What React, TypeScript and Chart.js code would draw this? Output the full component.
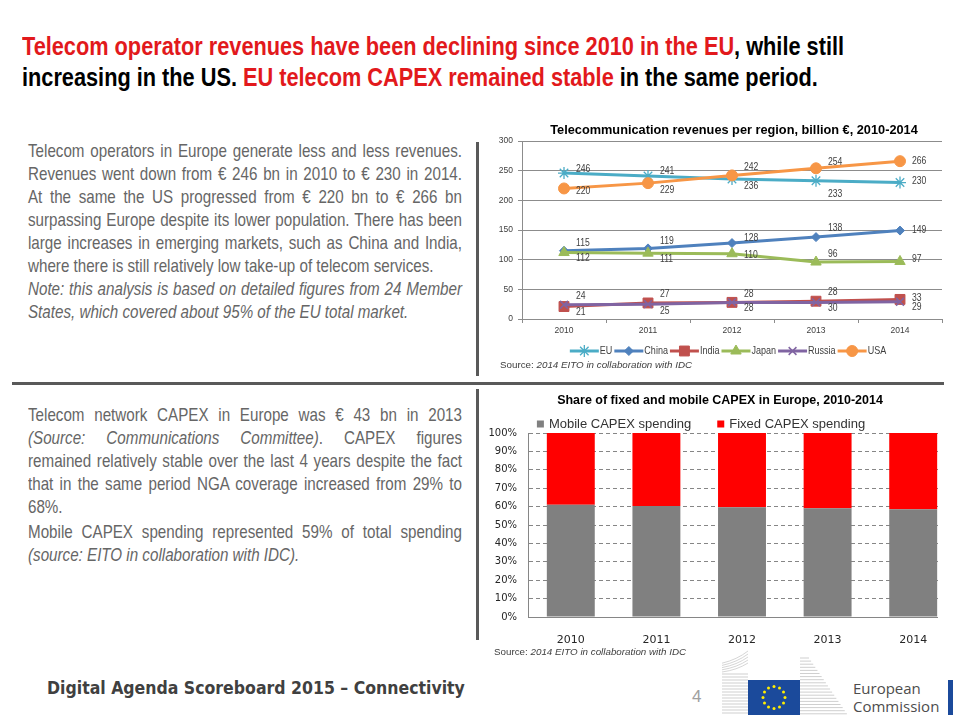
import React, { useEffect, useRef } from "react";
import { Chart, registerables } from "chart.js";
import { drawPoint } from "chart.js/helpers";

Chart.register(...registerables);

// ---------- data ----------
const years = ["2010", "2011", "2012", "2013", "2014"];
const regionNames = ["EU", "China", "India", "Japan", "Russia", "USA"];
const euRevenue = [246, 241, 236, 233, 230];
const chinaRevenue = [115, 119, 128, 138, 149];
const indiaRevenue = [21, 27, 28, 30, 33];
const japanRevenue = [112, 111, 110, 96, 97];
const russiaRevenue = [24, 25, 28, 28, 29];
const usaRevenue = [220, 229, 242, 254, 266];
const revenueSeries = [euRevenue, chinaRevenue, indiaRevenue, japanRevenue, russiaRevenue, usaRevenue];

const capexSeriesNames = ["Mobile CAPEX spending", "Fixed CAPEX spending"];
const mobileCapexShare = [61, 60.3, 59.7, 59.1, 58.6];
const fixedCapexShare = [39, 39.7, 40.3, 40.9, 41.4];

// ---------- styles ----------
const FONT_SANS = '"Liberation Sans", Arial, sans-serif';
const FONT_DEJAVU = '"DejaVu Sans", Verdana, sans-serif';
const NARROW = 0.82; // horizontal squeeze imitating Arial Narrow

const regionColors = ["#4BACC6", "#4F81BD", "#C0504D", "#9BBB59", "#8064A2", "#F79646"];
const regionMarkers = ["star", "rectRot", "rect", "triangle", "crossRot", "circle"];
const regionMarkerRadius = [6, 4.5, 7, 6, 5.5, 5.5];
const regionMarkerBorder = [1.3, 1, 1, 1, 1.5, 1];
// vertical offsets (px) of the value labels, relative to each point
const revenueLabelOffsets = [
  [-4, -5, 7, 13, -1],
  [-8, -7, -5, -9, 0],
  [6, -9, -8, 7, -1],
  [6, 6, 1, -8, -2],
  [-9, 7, 6, -10, 5],
  [3, 7, -8, -6, 0],
];
const capexColors = ["#808080", "#FF0000"];

function narrowText(ctx: CanvasRenderingContext2D, text: string, x: number, y: number) {
  ctx.save();
  ctx.translate(x, y);
  ctx.scale(NARROW, 1);
  ctx.fillText(text, 0, 0);
  ctx.restore();
}

// ---------- plugins ----------
const panelTitlePlugin = {
  id: "panelTitle",
  afterDraw(chart: any, _a: any, o: any) {
    const ctx = chart.ctx;
    ctx.save();
    let size = o.size;
    ctx.font = `bold ${size}px ${o.family}`;
    if (o.fitWidth) {
      const w = ctx.measureText(o.text).width;
      size = (size * o.fitWidth) / w;
      ctx.font = `bold ${size}px ${o.family}`;
    }
    ctx.fillStyle = o.color;
    ctx.textAlign = "center";
    ctx.textBaseline = "middle";
    ctx.fillText(o.text, o.x, o.y);
    ctx.restore();
  },
};

const valueLabelPlugin = {
  id: "valueLabels",
  afterDatasetsDraw(chart: any, _a: any, o: any) {
    const ctx = chart.ctx;
    ctx.save();
    ctx.font = `${o.size}px ${o.family}`;
    ctx.fillStyle = o.color;
    ctx.textAlign = "left";
    ctx.textBaseline = "middle";
    chart.data.datasets.forEach((ds: any, i: number) => {
      const meta = chart.getDatasetMeta(i);
      meta.data.forEach((pt: any, j: number) => {
        narrowText(ctx, String(ds.data[j]), pt.x + o.dx, pt.y + revenueLabelOffsets[i][j]);
      });
    });
    ctx.restore();
  },
};

const lineLegendPlugin = {
  id: "lineLegend",
  afterDraw(chart: any, _a: any, o: any) {
    const ctx = chart.ctx;
    ctx.save();
    ctx.font = `${o.size}px ${o.family}`;
    const items = chart.data.datasets.map((ds: any) => ({
      ds,
      w: o.sample + o.gap + ctx.measureText(ds.label).width * NARROW,
    }));
    const total = items.reduce((s: number, it: any) => s + it.w, 0) + o.spacing * (items.length - 1);
    let x = o.centerX - total / 2;
    const y = o.y;
    items.forEach(({ ds, w }: any) => {
      ctx.strokeStyle = ds.borderColor;
      ctx.lineWidth = ds.borderWidth;
      ctx.beginPath();
      ctx.moveTo(x, y);
      ctx.lineTo(x + o.sample, y);
      ctx.stroke();
      ctx.fillStyle = ds.pointBackgroundColor;
      ctx.strokeStyle = ds.pointBorderColor;
      ctx.lineWidth = ds.pointBorderWidth;
      drawPoint(ctx, { pointStyle: ds.pointStyle, radius: ds.pointRadius, borderWidth: ds.pointBorderWidth, rotation: 0 } as any, x + o.sample / 2, y);
      ctx.fillStyle = o.color;
      ctx.textAlign = "left";
      ctx.textBaseline = "middle";
      narrowText(ctx, ds.label, x + o.sample + o.gap, y);
      x += w + o.spacing;
    });
    ctx.restore();
  },
};

const boxLegendPlugin = {
  id: "boxLegend",
  afterDraw(chart: any, _a: any, o: any) {
    const ctx = chart.ctx;
    ctx.save();
    ctx.font = `${o.size}px ${o.family}`;
    const items = chart.data.datasets.map((ds: any) => ({
      ds,
      w: o.box + o.gap + ctx.measureText(ds.label).width,
    }));
    const total = items.reduce((s: number, it: any) => s + it.w, 0) + o.spacing * (items.length - 1);
    let x = o.centerX - total / 2;
    const y = o.y;
    items.forEach(({ ds, w }: any) => {
      ctx.fillStyle = ds.backgroundColor;
      ctx.fillRect(x, y - o.box / 2, o.box, o.box);
      ctx.fillStyle = o.color;
      ctx.textAlign = "left";
      ctx.textBaseline = "middle";
      ctx.fillText(ds.label, x + o.box + o.gap, y);
      x += w + o.spacing;
    });
    ctx.restore();
  },
};

// ---------- text helpers ----------
const bodyText: React.CSSProperties = {
  position: "absolute",
  left: 28,
  width: 434 / NARROW,
  transform: `scaleX(${NARROW})`,
  transformOrigin: "0 0",
  fontFamily: FONT_SANS,
  fontSize: 18.5,
  lineHeight: "23px",
  color: "#666666",
};

const sourceText: React.CSSProperties = {
  position: "absolute",
  fontFamily: FONT_SANS,
  fontSize: 9.8,
  lineHeight: "12px",
  color: "#404040",
  whiteSpace: "nowrap",
};

function JLine({ children, last, italic }: { children: React.ReactNode; last?: boolean; italic?: boolean }) {
  return (
    <div
      style={{
        whiteSpace: "nowrap",
        textAlign: last ? "left" : "justify",
        textAlignLast: last ? "left" : "justify",
        fontStyle: italic ? "italic" : "normal",
        height: 23,
      }}
    >
      {children}
    </div>
  );
}

function Logo() {
  const stars = Array.from({ length: 12 }, (_, k) => {
    const a = (k / 12) * Math.PI * 2;
    return <circle key={k} cx={59 + 11 * Math.sin(a)} cy={47.5 - 11 * Math.cos(a)} r={1.5} fill="#FFED00" />;
  });
  const leftLines = Array.from({ length: 14 }, (_, k) => (
    <line key={k} x1={7} x2={33} y1={24 + k * 3} y2={24 + k * 3} stroke="#cfcfcf" strokeWidth={1} />
  ));
  const leftCurves = Array.from({ length: 5 }, (_, k) => (
    <path key={k} d={`M7 ${22 - k * 2.2} Q22 ${20 - k * 2.6} 33 ${13 - k * 3}`} stroke="#d6d6d6" strokeWidth={1} fill="none" />
  ));
  const rightLines = Array.from({ length: 19 }, (_, k) => {
    const y = 8 + k * 3.1;
    const xe = 92 + ((y - 5) / 59) * 40;
    return <line key={k} x1={85} x2={xe} y1={y} y2={y} stroke="#cfcfcf" strokeWidth={1} />;
  });
  return (
    <svg style={{ position: "absolute", left: 715, top: 650 }} width={245} height={70}>
      {leftCurves}
      {leftLines}
      {rightLines}
      <rect x={33} y={30} width={52} height={35} fill="#1B4A9B" />
      {stars}
      <text x={138} y={44} fontFamily='"Open Sans", sans-serif' fontSize={15} fill="#4d4d4d">
        European
      </text>
      <text x={138} y={62} fontFamily='"Open Sans", sans-serif' fontSize={15} fill="#4d4d4d">
        Commission
      </text>
      <rect x={233} y={30} width={5} height={35} fill="#1B4A9B" />
    </svg>
  );
}

export default function App() {
  const lineRef = useRef<HTMLCanvasElement>(null);
  const barRef = useRef<HTMLCanvasElement>(null);

  useEffect(() => {
    const lineChart = new Chart(lineRef.current as HTMLCanvasElement, {
      type: "line",
      data: {
        labels: years,
        datasets: regionNames.map((name, i) => ({
          label: name,
          data: revenueSeries[i],
          borderColor: regionColors[i],
          backgroundColor: regionColors[i],
          borderWidth: 3,
          pointStyle: regionMarkers[i] as any,
          pointRadius: regionMarkerRadius[i],
          pointBorderWidth: regionMarkerBorder[i],
          pointBorderColor: regionColors[i],
          pointBackgroundColor: regionColors[i],
          tension: 0,
          order: regionNames.length - i,
        })),
      },
      options: {
        responsive: false,
        animation: false,
        layout: { padding: { top: 21, right: 6, bottom: 19, left: 0 } },
        plugins: {
          legend: { display: false },
          tooltip: { enabled: false },
          title: { display: false },
          panelTitle: {
            text: "Telecommunication revenues per region, billion €, 2010-2014",
            x: 244,
            y: 10,
            size: 11.5,
            fitWidth: 368,
            family: FONT_SANS,
            color: "#000000",
          },
          valueLabels: { size: 10.5, family: FONT_SANS, color: "#404040", dx: 12 },
          lineLegend: { size: 11, family: FONT_SANS, color: "#404040", sample: 29, gap: 1, spacing: 2, centerX: 238, y: 231 },
        } as any,
        scales: {
          x: {
            type: "category",
            offset: true,
            grid: { display: true, drawOnChartArea: false, drawTicks: true, tickLength: 4, color: "#8c8c8c", offset: true },
            border: { display: true, color: "#8c8c8c" },
            ticks: { font: { family: FONT_SANS, size: 8.5 }, color: "#404040", padding: 3, maxRotation: 0 },
            afterFit: (s: any) => {
              s.height = 22;
            },
          },
          y: {
            min: 0,
            max: 300,
            ticks: { stepSize: 50, font: { family: FONT_SANS, size: 8.5 }, color: "#404040", padding: 5 },
            grid: { color: "#8c8c8c", drawTicks: true, tickLength: 4 },
            border: { display: true, color: "#8c8c8c" },
            afterFit: (s: any) => {
              s.width = 32;
            },
          },
        },
      },
      plugins: [valueLabelPlugin, lineLegendPlugin, panelTitlePlugin],
    });

    const capexValues = [mobileCapexShare, fixedCapexShare];
    const barChart = new Chart(barRef.current as HTMLCanvasElement, {
      type: "bar",
      data: {
        labels: years,
        datasets: capexSeriesNames.map((name, i) => ({
          label: name,
          data: capexValues[i],
          backgroundColor: capexColors[i],
          barPercentage: 0.56,
          categoryPercentage: 1,
        })),
      },
      options: {
        responsive: false,
        animation: false,
        layout: { padding: { top: 43, right: 0, bottom: 3, left: 0 } },
        plugins: {
          legend: { display: false },
          tooltip: { enabled: false },
          title: { display: false },
          panelTitle: {
            text: "Share of fixed and mobile CAPEX in Europe, 2010-2014",
            x: 240,
            y: 11,
            size: 11.5,
            fitWidth: 326,
            family: FONT_SANS,
            color: "#000000",
          },
          boxLegend: { size: 13, family: FONT_SANS, color: "#333333", box: 7, gap: 5, spacing: 26, centerX: 221, y: 34 },
        } as any,
        scales: {
          x: {
            stacked: true,
            grid: { display: false },
            border: { display: true, color: "#868686" },
            ticks: { font: { family: FONT_DEJAVU, size: 11 }, color: "#262626", padding: 9 },
            afterFit: (s: any) => {
              s.height = 28;
            },
          },
          y: {
            stacked: true,
            min: 0,
            max: 100,
            ticks: {
              stepSize: 10,
              font: { family: FONT_DEJAVU, size: 10 },
              color: "#262626",
              padding: 11,
              callback: (v: any) => `${v}%`,
            },
            grid: { color: "#868686", drawTicks: false },
            border: { display: true, color: "#868686", dash: [4, 3] },
            afterFit: (s: any) => {
              s.width = 48;
            },
          },
        },
      },
      plugins: [boxLegendPlugin, panelTitlePlugin],
    });

    return () => {
      lineChart.destroy();
      barChart.destroy();
    };
  }, []);

  const red = { color: "#E2191C" };

  return (
    <div
      style={{
        position: "absolute",
        left: 0,
        top: 0,
        width: 960,
        height: 720,
        background: "#ffffff",
        overflow: "hidden",
      }}
    >
      {/* headline */}
      <div
        style={{
          position: "absolute",
          left: 22,
          top: 31,
          whiteSpace: "nowrap",
          fontFamily: FONT_SANS,
          fontWeight: "bold",
          fontSize: 26.5,
          lineHeight: "31px",
          color: "#000000",
          transform: `scaleX(${NARROW})`,
          transformOrigin: "0 0",
        }}
      >
        <span style={red}>Telecom operator revenues have been declining since 2010 in the EU</span>, while still
        <br />
        increasing in the US. <span style={red}>EU telecom CAPEX remained stable</span> in the same period.
      </div>

      {/* block 1 text */}
      <div style={{ ...bodyText, top: 138.5 }}>
        <JLine>Telecom operators in Europe generate less and less revenues.</JLine>
        <JLine>Revenues went down from € 246 bn in 2010 to € 230 in 2014.</JLine>
        <JLine>At the same the US progressed from € 220 bn to € 266 bn</JLine>
        <JLine>surpassing Europe despite its lower population. There has been</JLine>
        <JLine>large increases in emerging markets, such as China and India,</JLine>
        <JLine last>where there is still relatively low take-up of telecom services.</JLine>
      </div>
      <div style={{ ...bodyText, top: 276.5 }}>
        <JLine italic>Note: this analysis is based on detailed figures from 24 Member</JLine>
        <JLine italic last>
          States, which covered about 95% of the EU total market.
        </JLine>
      </div>

      {/* block 2 text */}
      <div style={{ ...bodyText, top: 402.5 }}>
        <JLine>Telecom network CAPEX in Europe was € 43 bn in 2013</JLine>
        <JLine>
          <i>(Source: Communications Committee)</i>. CAPEX figures
        </JLine>
        <JLine>remained relatively stable over the last 4 years despite the fact</JLine>
        <JLine>that in the same period NGA coverage increased from 29% to</JLine>
        <JLine last>68%.</JLine>
      </div>
      <div style={{ ...bodyText, top: 519.5 }}>
        <JLine>Mobile CAPEX spending represented 59% of total spending</JLine>
        <JLine italic last>
          (source: EITO in collaboration with IDC).
        </JLine>
      </div>

      {/* dividers */}
      <div style={{ position: "absolute", left: 476, top: 142, width: 3, height: 234, background: "#595959" }} />
      <div style={{ position: "absolute", left: 12, top: 382, width: 932, height: 3, background: "#595959" }} />
      <div style={{ position: "absolute", left: 476, top: 389, width: 3, height: 251, background: "#595959" }} />

      {/* line chart */}
      <canvas
        ref={lineRef}
        width={460}
        height={240}
        style={{ position: "absolute", left: 490, top: 120, width: 460, height: 240 }}
      />
      <div style={{ ...sourceText, left: 500, top: 359 }}>
        Source: <i>2014 EITO in collaboration with IDC</i>
      </div>

      {/* bar chart */}
      <div style={{ position: "absolute", left: 480, top: 390, width: 458, height: 258, overflow: "hidden" }}>
        <canvas
          ref={barRef}
          width={476}
          height={258}
          style={{ position: "absolute", left: 0, top: 0, width: 476, height: 258 }}
        />
      </div>
      <div style={{ ...sourceText, left: 494, top: 645.5 }}>
        Source: <i>2014 EITO in collaboration with IDC</i>
      </div>

      {/* footer */}
      <div
        style={{
          position: "absolute",
          left: 47,
          top: 677,
          fontFamily: '"DejaVu Sans Condensed", "DejaVu Sans", sans-serif',
          fontWeight: "bold",
          fontSize: 17.5,
          lineHeight: "22px",
          color: "#404040",
          whiteSpace: "nowrap",
        }}
      >
        Digital Agenda Scoreboard 2015 – Connectivity
      </div>
      <div
        style={{
          position: "absolute",
          left: 692,
          top: 686,
          fontFamily: FONT_SANS,
          fontSize: 17,
          lineHeight: "22px",
          color: "#a0a0a0",
        }}
      >
        4
      </div>
      <Logo />
    </div>
  );
}
